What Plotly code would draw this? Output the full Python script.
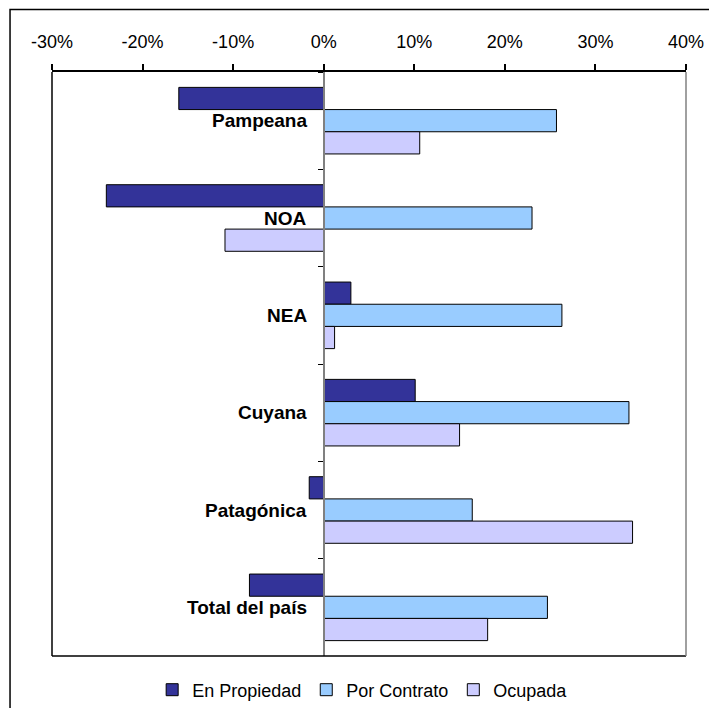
import plotly.graph_objects as go

categories = ["Pampeana", "NOA", "NEA", "Cuyana", "Patagónica", "Total del país"]
series_names = ["En Propiedad", "Por Contrato", "Ocupada"]
en_propiedad = [-0.160, -0.240, 0.030, 0.101, -0.016, -0.082]
por_contrato = [0.257, 0.230, 0.263, 0.337, 0.164, 0.247]
ocupada = [0.106, -0.109, 0.012, 0.150, 0.341, 0.181]
colors = ["#333399", "#99CCFF", "#CCCCFF"]
x_ticks = [-0.3, -0.2, -0.1, 0.0, 0.1, 0.2, 0.3, 0.4]
x_ticktext = ["-30%", "-20%", "-10%", "0%", "10%", "20%", "30%", "40%"]

# page has an 8px body margin, so the figure is drawn 8px in from the window edge
OFF = 8
W, H = 717 - OFF, 708 - OFF
ML, MR, MT, MB = 51.5 - OFF, 31, 72 - OFF, 52
FONT = "Liberation Sans, Arial, sans-serif"

fig = go.Figure()
for name, vals, col in zip(series_names, [en_propiedad, por_contrato, ocupada], colors):
    fig.add_trace(go.Bar(
        y=categories, x=vals, name=name, orientation="h",
        marker=dict(color=col, line=dict(color="#000000", width=1)),
    ))

xmin, xmax = x_ticks[0], x_ticks[-1]
zero_pos = (0 - xmin) / (xmax - xmin)

annotations = []
for c in categories:
    annotations.append(dict(
        x=0, y=c, xref="x", yref="y", text="<b>" + c + "</b>",
        showarrow=False, xanchor="right", yanchor="middle", xshift=-15,
        font=dict(family=FONT, size=19, color="#000000"),
    ))

pw = W - ML - MR
ph = H - MT - MB
shapes = [
    dict(type="line", xref="paper", yref="paper", x0=0, x1=0, y0=0, y1=1,
         line=dict(color="#000000", width=1.5)),
    dict(type="line", xref="paper", yref="paper", x0=0, x1=1, y0=0, y1=0,
         line=dict(color="#000000", width=1.5)),
    dict(type="line", xref="paper", yref="paper", x0=1, x1=1, y0=0, y1=1,
         line=dict(color="#808080", width=1.5)),
    dict(type="rect", xref="paper", yref="paper",
         x0=(9.5 - OFF - ML) / pw, x1=(W + 20 - ML) / pw,
         y0=-(H + 20 - (H - MB)) / ph, y1=(H - MB - (9.5 - OFF)) / ph,
         line=dict(color="#000000", width=1.5), fillcolor="rgba(0,0,0,0)"),
]

legend_center_px = 690 - OFF

fig.update_layout(
    width=W, height=H,
    margin=dict(l=ML, r=MR, t=MT, b=MB, autoexpand=False),
    paper_bgcolor="#FFFFFF", plot_bgcolor="#FFFFFF",
    barmode="group", bargap=0.316, bargroupgap=0,
    font=dict(family=FONT, color="#000000"),
    xaxis=dict(
        side="top", range=[xmin, xmax], tickvals=x_ticks, ticktext=x_ticktext,
        showgrid=False, zeroline=False, showline=True, linecolor="#000000", linewidth=1.5,
        ticks="outside", ticklen=6, tickcolor="#000000", tickwidth=1.5,
        ticklabelstandoff=9, automargin=False,
        tickfont=dict(family=FONT, size=18, color="#000000"),
    ),
    yaxis=dict(
        type="category", autorange="reversed", anchor="free", position=zero_pos,
        showgrid=False, zeroline=False, showline=True, linecolor="#808080", linewidth=1.5,
        ticks="outside", ticklen=5, tickcolor="#000000", tickson="boundaries",
        showticklabels=False, automargin=False,
    ),
    legend=dict(
        orientation="h", x=0.49, xanchor="center",
        yref="container", y=1 - legend_center_px / H, yanchor="middle",
        font=dict(family=FONT, size=18, color="#000000"),
        itemwidth=30, itemclick=False,
    ),
    annotations=annotations,
    shapes=shapes,
)

fig.write_html("out.html")
